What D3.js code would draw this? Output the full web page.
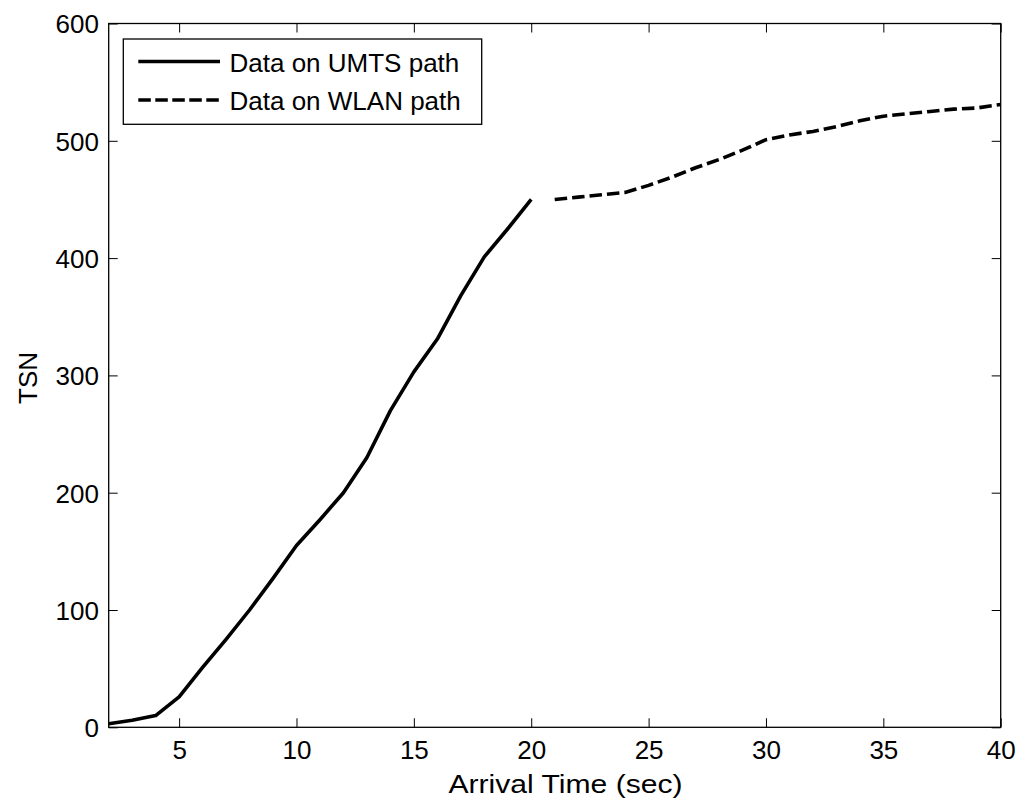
<!DOCTYPE html>
<html>
<head>
<meta charset="utf-8">
<script src="https://cdn.jsdelivr.net/npm/d3@7"></script>
<style>
  html, body { margin: 0; padding: 0; background: #fff; }
  svg { display: block; font-family: "Liberation Sans", Arial, Helvetica, sans-serif; }
</style>
</head>
<body>
<svg id="chart" width="1021" height="804"></svg>
<script>
// ---- data ----
const umtsTime = [2, 3, 4, 5, 6, 7, 8, 9, 10, 11, 12, 13, 14, 15, 16, 17, 18, 19, 20];
const umtsTSN  = [3, 6, 10, 26, 51, 75, 100, 127, 155, 177, 200, 230, 270, 303, 331, 368, 401, 425, 450];
const wlanTime = [21, 22, 23, 24, 25, 26, 27, 28, 29, 30, 31, 32, 33, 34, 35, 36, 37, 38, 39, 40];
const wlanTSN  = [450, 452, 454, 456, 462, 469, 477, 484, 492, 501, 505, 508, 512, 517, 521, 523, 525, 527, 528, 531];
const xTicks = [5, 10, 15, 20, 25, 30, 35, 40];
const yTicks = [0, 100, 200, 300, 400, 500, 600];
const seriesNames = ["Data on UMTS path", "Data on WLAN path"];
const xLabel = "Arrival Time (sec)";
const yLabel = "TSN";

// ---- layout ----
const L = 108.7, R = 1000.7, T = 23.5, B = 727.3;
const svg = d3.select("#chart");
const x = d3.scaleLinear().domain([2, 40]).range([L, R]);
const y = d3.scaleLinear().domain([0, 600]).range([B, T]);
const fs = 26;

svg.append("rect").attr("x", 0).attr("y", 0).attr("width", 1021).attr("height", 804).attr("fill", "#fff");

// axes with inward ticks on all sides
const tickLen = 9;
const gBottom = svg.append("g").attr("transform", `translate(0,${B})`)
  .call(d3.axisBottom(x).tickValues(xTicks).tickSize(-tickLen).tickFormat(d3.format("d")));
const gTop = svg.append("g").attr("transform", `translate(0,${T})`)
  .call(d3.axisTop(x).tickValues(xTicks).tickSize(-tickLen).tickFormat(""));
const gLeft = svg.append("g").attr("transform", `translate(${L},0)`)
  .call(d3.axisLeft(y).tickValues(yTicks).tickSize(-tickLen).tickFormat(d3.format("d")));
const gRight = svg.append("g").attr("transform", `translate(${R},0)`)
  .call(d3.axisRight(y).tickValues(yTicks).tickSize(-tickLen).tickFormat(""));

[gBottom, gTop, gLeft, gRight].forEach(g => {
  g.select(".domain").remove();
  g.selectAll(".tick line").attr("stroke", "#000").attr("stroke-width", 1);
  g.selectAll(".tick text").attr("fill", "#000").attr("font-size", fs)
    .attr("font-family", "Liberation Sans, Arial, sans-serif");
});
gBottom.selectAll(".tick text").attr("dy", null).attr("y", 32);
gLeft.selectAll(".tick text").attr("x", -(L - 99)).attr("dy", "0.36em");

// frame
svg.append("rect").attr("x", L).attr("y", T).attr("width", R - L).attr("height", B - T)
  .attr("fill", "none").attr("stroke", "#000").attr("stroke-width", 1.3);

// lines
const line = d3.line().x(d => x(d[0])).y(d => y(d[1]));
const umts = umtsTime.map((t, i) => [t, umtsTSN[i]]);
const wlan = wlanTime.map((t, i) => [t, wlanTSN[i]]);

svg.append("path").datum(umts).attr("d", line)
  .attr("fill", "none").attr("stroke", "#000").attr("stroke-width", 3.6).attr("stroke-linejoin", "round");
svg.append("path").datum(wlan).attr("d", line)
  .attr("fill", "none").attr("stroke", "#000").attr("stroke-width", 3.6)
  .attr("stroke-dasharray", "12.5,5");

// axis labels
svg.append("text").attr("x", 565.5).attr("y", 793).attr("text-anchor", "middle")
  .attr("font-size", fs).attr("textLength", 234).attr("lengthAdjust", "spacingAndGlyphs").text(xLabel);
svg.append("text").attr("transform", "translate(37,378) rotate(-90)").attr("text-anchor", "middle")
  .attr("font-size", fs).text(yLabel);

// legend
const lg = svg.append("g");
lg.append("rect").attr("x", 123.3).attr("y", 39).attr("width", 358.4).attr("height", 85.3)
  .attr("fill", "#fff").attr("stroke", "#000").attr("stroke-width", 1.3);
const rows = [61.5, 100];
const dashes = [null, "12.5,4.5"];
seriesNames.forEach((name, i) => {
  const l = lg.append("line").attr("x1", 138.3).attr("x2", i === 0 ? 220 : 218.8)
    .attr("y1", rows[i]).attr("y2", rows[i])
    .attr("stroke", "#000").attr("stroke-width", 3.6);
  if (dashes[i]) l.attr("stroke-dasharray", dashes[i]);
  lg.append("text").attr("x", 229.5).attr("y", rows[i] + 10).attr("font-size", fs).text(name);
});
</script>
</body>
</html>
